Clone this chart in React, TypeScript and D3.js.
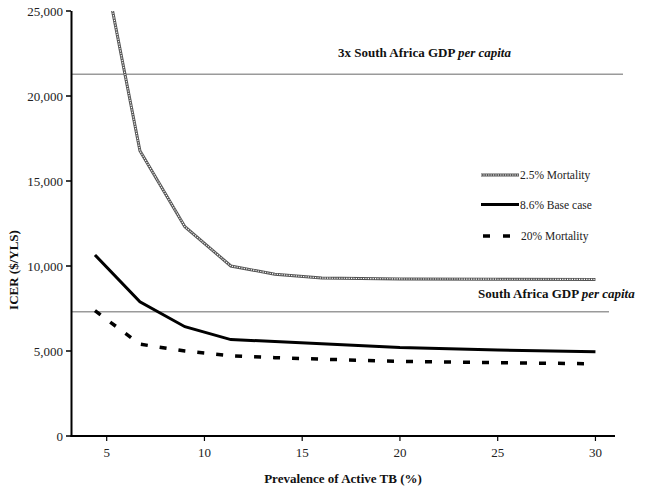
import React from "react";
import * as d3 from "d3";

const prevalence = [4.4, 6.7, 9.0, 11.35, 13.6, 16, 20, 25, 30];
const mort25 = [30300, 16780, 12310, 10000, 9520, 9290, 9240, 9225, 9210];
const baseCase = [10650, 7900, 6430, 5670, 5560, 5420, 5200, 5060, 4960];
const mort20 = [7370, 5400, 5000, 4720, 4610, 4520, 4390, 4310, 4250];
const xTicks = [5, 10, 15, 20, 25, 30];
const yTicks = [0, 5000, 10000, 15000, 20000, 25000];
const gdp1 = 7310;
const gdp3 = 21280;
const legendLabels = ["2.5% Mortality", "8.6% Base case", "20% Mortality"];

const W = 647;
const H = 494;
const font = "'Liberation Serif', 'Times New Roman', serif";

export default function App() {
  const x = d3.scaleLinear().domain([3.2, 31.0]).range([71.5, 615]);
  const y = d3.scaleLinear().domain([0, 25000]).range([436, 11]);
  const line = d3
    .line<[number, number]>()
    .x((d) => x(d[0]))
    .y((d) => y(d[1]));
  const pts = (vals: number[]) => prevalence.map((p, i) => [p, vals[i]] as [number, number]);
  const fmt = d3.format(",");

  return (
    <svg
      width={W}
      height={H}
      style={{ position: "absolute", left: 0, top: 0, background: "#fff" }}
      fontFamily={font}
    >
      <defs>
        <clipPath id="plot">
          <rect x={71} y={y(25000)} width={W - 71} height={y(0) - y(25000)} />
        </clipPath>
      </defs>
      {/* reference lines */}
      <line x1={71} x2={623} y1={y(gdp3)} y2={y(gdp3)} stroke="#9a9a9a" strokeWidth={1.6} />
      <line x1={71} x2={609} y1={y(gdp1)} y2={y(gdp1)} stroke="#9a9a9a" strokeWidth={1.6} />
      <text x={338} y={57} fontSize={13} fontWeight="bold" fill="#111">
        3x South Africa GDP <tspan fontStyle="italic">per capita</tspan>
      </text>
      <text x={478} y={298} fontSize={13} fontWeight="bold" fill="#111">
        South Africa GDP <tspan fontStyle="italic">per capita</tspan>
      </text>

      <g clipPath="url(#plot)">
        <path d={line(pts(mort25)) || ""} fill="none" stroke="#555" strokeWidth={3} />
        <path
          d={line(pts(mort25)) || ""}
          fill="none"
          stroke="#fff"
          strokeWidth={1.1}
          strokeDasharray="1.2,1.2"
        />
        <path d={line(pts(baseCase)) || ""} fill="none" stroke="#000" strokeWidth={3} />
        <path
          d={line(pts(mort20)) || ""}
          fill="none"
          stroke="#000"
          strokeWidth={3.5}
          strokeDasharray="7,12"
        />
      </g>

      {/* axes */}
      <line x1={71.5} x2={71.5} y1={y(25000)} y2={y(0) + 1} stroke="#000" strokeWidth={2} />
      <line x1={70.5} x2={615} y1={y(0)} y2={y(0)} stroke="#000" strokeWidth={2} />
      {yTicks.map((t) => (
        <g key={"y" + t}>
          <line x1={66} x2={71} y1={y(t)} y2={y(t)} stroke="#000" strokeWidth={1.5} />
          <text x={63} y={y(t) + 4.5} fontSize={13} textAnchor="end" fill="#222">
            {fmt(t)}
          </text>
        </g>
      ))}
      {xTicks.map((t) => (
        <g key={"x" + t}>
          <line x1={x(t)} x2={x(t)} y1={y(0)} y2={y(0) + 5} stroke="#000" strokeWidth={1.2} />
          <text x={x(t)} y={457} fontSize={13} textAnchor="middle" fill="#222">
            {t}
          </text>
        </g>
      ))}
      <text x={343} y={483} fontSize={13} fontWeight="bold" textAnchor="middle" fill="#111">
        Prevalence of Active TB (%)
      </text>
      <text
        transform={`translate(18, 270) rotate(-90)`}
        fontSize={13}
        fontWeight="bold"
        textAnchor="middle"
        fill="#111"
      >
        ICER ($/YLS)
      </text>

      {/* legend */}
      <g>
        <line x1={481} x2={519} y1={175} y2={175} stroke="#555" strokeWidth={3} />
        <line x1={481} x2={519} y1={175} y2={175} stroke="#fff" strokeWidth={1.1} strokeDasharray="1.2,1.2" />
        <text x={520} y={179} fontSize={11.5} fill="#222">{legendLabels[0]}</text>
        <line x1={481} x2={519} y1={204.5} y2={204.5} stroke="#000" strokeWidth={3} />
        <text x={520} y={208.5} fontSize={11.5} fill="#222">{legendLabels[1]}</text>
        <line x1={483} x2={510} y1={236} y2={236} stroke="#000" strokeWidth={3.5} strokeDasharray="7,13" />
        <text x={521} y={240} fontSize={11.5} fill="#222">{legendLabels[2]}</text>
      </g>
    </svg>
  );
}
